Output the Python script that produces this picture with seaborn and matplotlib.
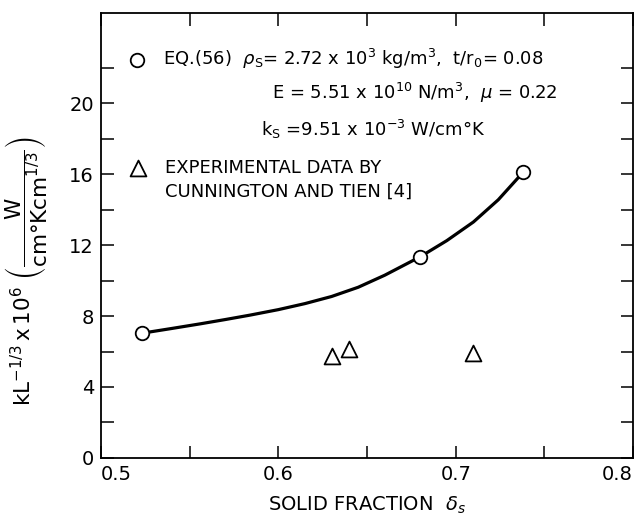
import matplotlib
matplotlib.use("Agg")
import matplotlib.pyplot as plt
import seaborn as sns
import pandas as pd

# values
eq_x = [0.523, 0.680, 0.738]
eq_y = [7.03, 11.34, 16.1]
exp_x = [0.630, 0.640, 0.710]
exp_y = [5.73, 6.14, 5.90]
curve_x = [0.523, 0.540, 0.556, 0.570, 0.584, 0.600, 0.615, 0.630, 0.645,
           0.660, 0.680, 0.695, 0.710, 0.724, 0.738]
curve_y = [7.03, 7.30, 7.56, 7.80, 8.05, 8.36, 8.70, 9.10, 9.62,
           10.30, 11.34, 12.25, 13.30, 14.55, 16.1]
x_ticks = [0.5, 0.6, 0.7, 0.8]
x_minor = [0.55, 0.65, 0.75]
y_ticks = [0, 4, 8, 12, 16, 20]
y_minor = [2, 6, 10, 14, 18, 22]

sns.set_style("ticks")
plt.rcParams['font.family'] = ['DejaVu Sans']
plt.rcParams['mathtext.fontset'] = 'dejavusans'
plt.rcParams['text.color'] = 'black'
plt.rcParams['axes.labelcolor'] = 'black'
plt.rcParams['xtick.color'] = 'black'
plt.rcParams['ytick.color'] = 'black'

fig = plt.figure(figsize=(6.41, 5.24), dpi=100)
ax = fig.add_axes([0.1576, 0.126, 0.83, 0.85])

curve = pd.DataFrame({"x": curve_x, "y": curve_y})
sns.lineplot(data=curve, x="x", y="y", color="black", lw=2.3, ax=ax, sort=True)
sns.scatterplot(x=eq_x, y=eq_y, marker="o", s=95, facecolor="white",
                edgecolor="black", linewidth=1.3, zorder=5, ax=ax)
sns.scatterplot(x=exp_x, y=exp_y, marker="^", s=130, facecolor="white",
                edgecolor="black", linewidth=1.3, zorder=5, ax=ax)

ax.set_xlim(0.5, 0.8)
ax.set_ylim(0, 25.1)
ax.set_xticks(x_ticks)
ax.set_xticks(x_minor, minor=True)
ax.set_yticks(y_ticks)
ax.set_yticks(y_minor, minor=True)
ax.set_xticklabels([str(t) for t in x_ticks])
ax.set_yticklabels([str(t) for t in y_ticks])
labs = ax.get_xticklabels()
labs[0].set_ha("left")
labs[-1].set_ha("right")

ax.tick_params(which="both", direction="in", top=True, right=True,
               length=9, width=1.1, labelsize=14, color="black",
               labelcolor="black", pad=5)
for s in ax.spines.values():
    s.set_linewidth(1.3)
    s.set_color("black")

ax.set_xlabel(r"SOLID FRACTION  $\delta_s$", fontsize=14, labelpad=8)
ax.set_ylabel(r"$\mathrm{kL}^{-1/3}\,\mathrm{x}\,10^{6}\ \left(\dfrac{\mathrm{W}}{\mathrm{cm°Kcm}^{1/3}}\right)$",
              fontsize=15.5)
ax.yaxis.set_label_coords(-0.095, 0.42)

# key drawn inside the axes
ax.scatter([0.068], [0.894], marker="o", s=95, facecolor="white",
           edgecolor="black", linewidth=1.3, transform=ax.transAxes, clip_on=False)
ax.scatter([0.070], [0.651], marker="^", s=130, facecolor="white",
           edgecolor="black", linewidth=1.3, transform=ax.transAxes, clip_on=False)
fs = 13
ax.text(0.117, 0.896, r"EQ.(56)  $\rho_{\rm S}$= 2.72 x 10$^3$ kg/m$^3$,  t/r$_0$= 0.08",
        transform=ax.transAxes, fontsize=fs, va="center")
ax.text(0.321, 0.820, r"E = 5.51 x 10$^{10}$ N/m$^3$,  $\mu$ = 0.22",
        transform=ax.transAxes, fontsize=fs, va="center")
ax.text(0.301, 0.737, r"k$_{\rm S}$ =9.51 x 10$^{-3}$ W/cm°K",
        transform=ax.transAxes, fontsize=fs, va="center")
ax.text(0.120, 0.651, "EXPERIMENTAL DATA BY",
        transform=ax.transAxes, fontsize=fs, va="center")
ax.text(0.120, 0.597, "CUNNINGTON AND TIEN [4]",
        transform=ax.transAxes, fontsize=fs, va="center")

fig.savefig("out.png", dpi=100)
